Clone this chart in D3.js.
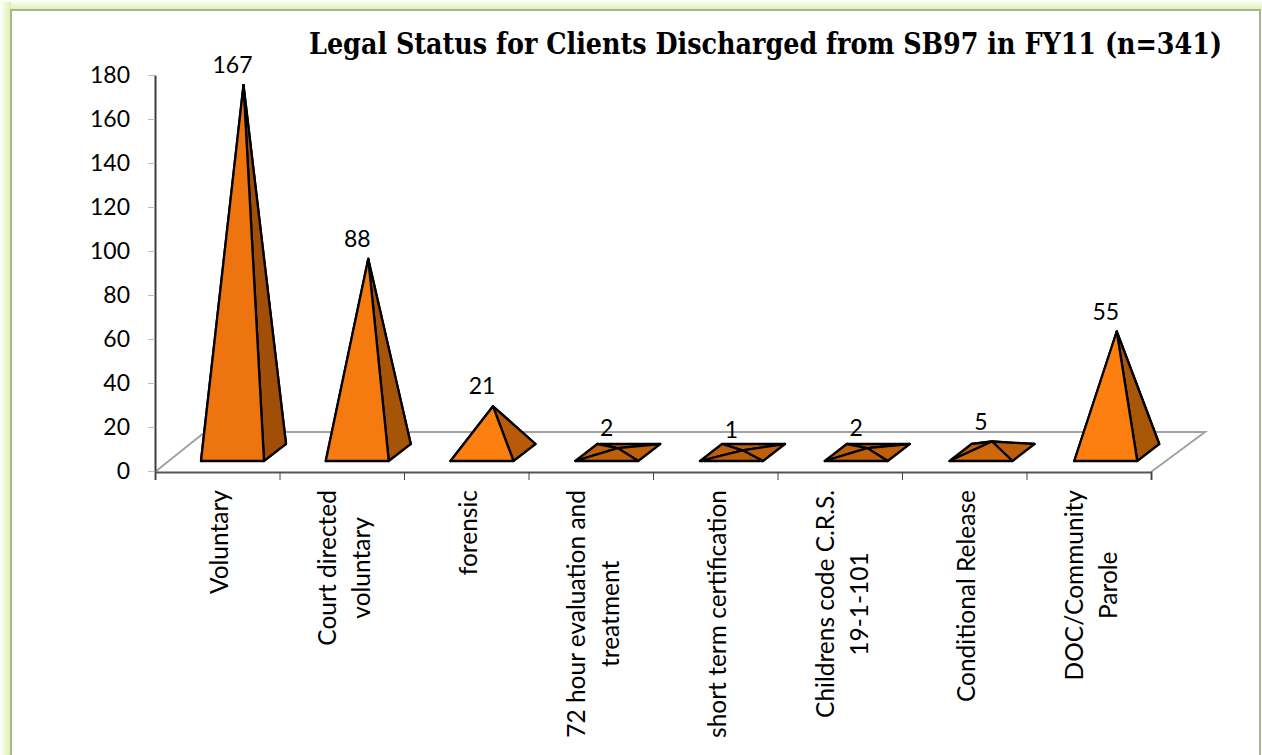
<!DOCTYPE html>
<html>
<head>
<meta charset="utf-8">
<script src="https://cdn.jsdelivr.net/npm/d3@7"></script>
<style>
  html, body { margin: 0; padding: 0; background: #fff; }
  svg { display: block; }
  text { fill: #000; font-family: Lato, "Open Sans", sans-serif; }
</style>
</head>
<body>
<div id="chart"></div>
<script>
// Data
var title = "Legal Status for Clients Discharged from SB97 in FY11 (n=341)";
var categories = [
  "Voluntary", "Court directed voluntary", "forensic", "72 hour evaluation and treatment",
  "short term certification", "Childrens code C.R.S. 19-1-101", "Conditional Release", "DOC/Community Parole"
];
var labelLines = [
  ["Voluntary"], ["Court directed", "voluntary"], ["forensic"], ["72 hour evaluation and", "treatment"],
  ["short term certification"], ["Childrens code C.R.S.", "19-1-101"], ["Conditional Release"], ["DOC/Community", "Parole"]
];
var values = [167, 88, 21, 2, 1, 2, 5, 55];
var yTicks = [0, 20, 40, 60, 80, 100, 120, 140, 160, 180];

var svg_width = 1262;
var svg_height = 755;

var svg = d3.select("#chart").append("svg")
  .attr("width", svg_width)
  .attr("height", svg_height);

// Step 1: page border with the soft green glow
var defs = svg.append("defs");
function glow(id, x1, y1, x2, y2) {
  var g = defs.append("linearGradient").attr("id", id)
    .attr("x1", x1).attr("y1", y1).attr("x2", x2).attr("y2", y2);
  g.append("stop").attr("offset", "0%").attr("stop-color", "#ffffff");
  g.append("stop").attr("offset", "100%").attr("stop-color", "#dcefac");
}
glow("glowTop", 0, 0, 0, 1);
glow("glowLeft", 0, 0, 1, 0);
svg.append("rect").attr("x", 0).attr("y", 0).attr("width", svg_width).attr("height", 10).attr("fill", "url(#glowTop)");
svg.append("rect").attr("x", 0).attr("y", 2).attr("width", 11).attr("height", svg_height).attr("fill", "url(#glowLeft)");
svg.append("path")
  .attr("d", "M11,755V10H1260V755")
  .attr("fill", "none")
  .attr("stroke", "#aab48f")
  .attr("stroke-width", 2);

// Step 2: scales
var yScale = d3.scaleLinear().domain([0, 180]).range([471, 75]);
var xScale = d3.scaleBand().domain(categories).range([155, 1151]);
var pyramidScale = d3.scaleBand().domain(categories).range([155, 1153]);
var tickScale = d3.scaleLinear().domain([0, categories.length]).range([155, 1151]);

// Step 3: floor of the 3D chart
var floorY = yScale(0) + 1;
var floor = [[155, floorY], [205, 432], [1205, 432], [1151, floorY]];
svg.append("path")
  .attr("d", "M" + floor.map(function(p) { return p.join(","); }).join("L"))
  .attr("fill", "#fff")
  .attr("stroke", "#a3a3a3")
  .attr("stroke-width", 2);

// Step 4: axes
var leftAxis = d3.axisLeft(yScale).tickValues(yTicks).tickSize(7).tickSizeOuter(0).tickPadding(18);
var gy = svg.append("g").attr("transform", "translate(155,0)").call(leftAxis);
gy.select(".domain").attr("stroke", "#3c3c3c").attr("stroke-width", 2);
gy.selectAll(".tick line").attr("stroke", "#b9c4a4");
gy.selectAll(".tick text").style("font-size", "23px").attr("fill", "#000").style("font-family", "Lato");

var bottomAxis = d3.axisBottom(tickScale).ticks(categories.length).tickSize(8).tickFormat("");
var gx = svg.append("g").attr("transform", "translate(0," + floorY + ")").call(bottomAxis);
gx.select(".domain").attr("stroke", "#555").attr("stroke-width", 2);
gx.selectAll(".tick line").attr("stroke", "#444");

// Step 5: pyramids
var baseWidth = 63, depthX = 22, depthY = 17, baseY = 461;
var frontFill = d3.scaleLinear().domain([2, 5, 21, 55, 88, 167])
  .range(["#bf5f09", "#cf680b", "#fd7f10", "#fd7f10", "#f57a10", "#ee7410"]);
var sideFill = d3.scaleLinear().domain([2, 21, 55, 167])
  .range(["#bf5f09", "#b85a0a", "#a85608", "#a04e08"]);

function face(group, pts, fill) {
  group.append("polygon")
    .attr("points", pts.map(function(p) { return p.join(","); }).join(" "))
    .attr("fill", fill)
    .attr("stroke", "#000")
    .attr("stroke-width", 2.3)
    .attr("stroke-linejoin", "round");
}

categories.forEach(function(cat, i) {
  var v = values[i];
  var left = pyramidScale(cat) + 46;
  var fl = [left, baseY];
  var fr = [left + baseWidth, baseY];
  var br = [left + baseWidth + depthX, baseY - depthY];
  var bl = [left + depthX, baseY - depthY];
  var cx = left + (baseWidth + depthX) / 2;
  // apex rises from the centre of the base
  var apex = [cx, yScale(v) - 18.5];
  var g = svg.append("g").attr("class", "pyramid");

  face(g, [bl, br, apex], sideFill(v));
  face(g, [fl, bl, apex], sideFill(v));
  face(g, [fr, br, apex], sideFill(v));
  face(g, [fl, fr, apex], frontFill(v));

  svg.append("text")
    .attr("x", left + baseWidth / 2)
    .attr("y", apex[1] - 12)
    .attr("text-anchor", "middle")
    .style("font-size", "23px")
    .text(v);
});

// Step 6: rotated category labels, lines centred on the longest one
var lineGap = 34;
labelLines.forEach(function(lines, i) {
  var cx = xScale(categories[i]) + xScale.bandwidth() / 2 + 3;
  var g = svg.append("g");
  var texts = lines.map(function(t, j) {
    return g.append("text")
      .attr("text-anchor", "middle")
      .style("font-size", "24.5px")
      .text(t);
  });
  var longest = d3.max(texts, function(t) { return t.node().getComputedTextLength(); });
  var midY = 490 + longest / 2;
  texts.forEach(function(t, j) {
    var x = cx + (j - (lines.length - 1) / 2) * lineGap;
    t.attr("transform", "translate(" + (x + 8) + "," + midY + ") rotate(-90)");
  });
});

// Step 7: title
svg.append("text")
  .attr("x", 309)
  .attr("y", 54)
  .style("font-family", "'DejaVu Serif Condensed', 'DejaVu Serif', serif")
  .style("font-weight", "bold")
  .style("font-size", "29px")
  .attr("textLength", 913)
  .attr("lengthAdjust", "spacingAndGlyphs")
  .text(title);
</script>
</body>
</html>
